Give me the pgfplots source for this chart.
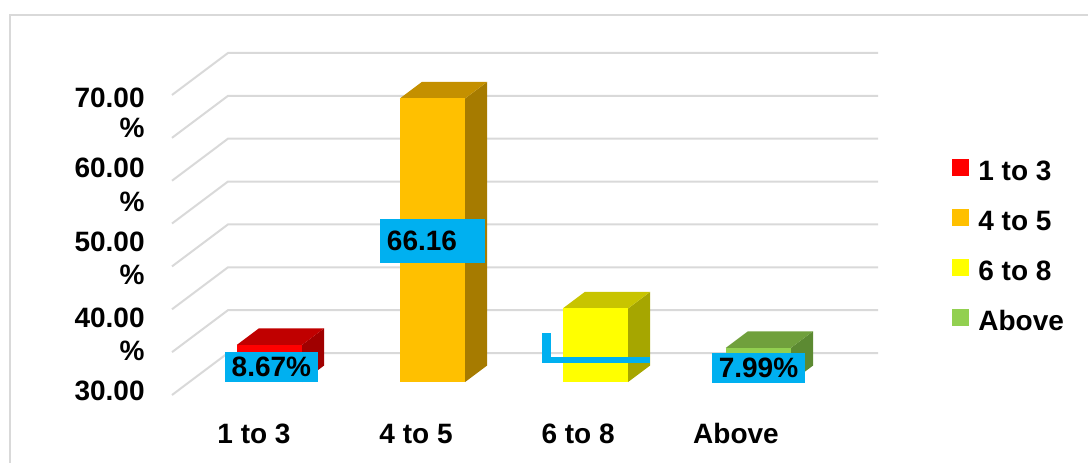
\documentclass[border=0pt]{standalone}
\usepackage{pgfplots}
\pgfplotsset{compat=1.18}
\usepackage{fontspec}
\setmainfont{Liberation Sans}

\definecolor{gridgray}{HTML}{D9D9D9}
\definecolor{lblblue}{HTML}{00B0F0}
\definecolor{redF}{HTML}{FF0000}\definecolor{redT}{HTML}{C00000}\definecolor{redS}{HTML}{A00000}
\definecolor{orgF}{HTML}{FFC000}\definecolor{orgT}{HTML}{C49000}\definecolor{orgS}{HTML}{A67B00}
\definecolor{yelF}{HTML}{FFFF00}\definecolor{yelT}{HTML}{C8C400}\definecolor{yelS}{HTML}{A6A600}
\definecolor{grnF}{HTML}{92D050}\definecolor{grnT}{HTML}{70A03C}\definecolor{grnS}{HTML}{5C8A32}

\newcommand\lblfont{\fontsize{14bp}{16bp}\selectfont\bfseries}

% 3-D bar: #1 = category position, #2 = value, #3/#4/#5 = front/top/side colours
\newcommand\barthreed[5]{%
  \pgfmathsetmacro\xl{#1-0.2}%
  \pgfmathsetmacro\xr{#1+0.2}%
  \pgfmathsetmacro\xlb{#1-0.2+0.135}%
  \pgfmathsetmacro\xrb{#1+0.2+0.135}%
  \pgfmathsetmacro\vb{#2+3.85}%
  \edef\tmp{%
    \noexpand\addplot[fill=#5,draw=none,forget plot] coordinates {(\xr,0) (\xrb,3.85) (\xrb,\vb) (\xr,#2)};
    \noexpand\addplot[fill=#4,draw=none,forget plot] coordinates {(\xl,#2) (\xlb,\vb) (\xrb,\vb) (\xr,#2)};
    \noexpand\addplot[ybar,bar width=0.4,bar shift=0pt,fill=#3,draw=none,forget plot] coordinates {(#1,#2)};
  }\tmp}

\begin{document}
\begin{tikzpicture}
\useasboundingbox (-86bp,-34bp) rectangle (458bp,197.5bp);
\begin{axis}[
  scale only axis,
  width=353bp, height=171bp,
  xmin=-0.598, xmax=3.733,
  ymin=-3.033, ymax=76.76,
  clip=false,
  axis line style={draw=none},
  major tick style={draw=none},
  ytick=\empty,
  xtick={-0.095,0.899,1.893,2.862},
  xticklabels={1 to 3,4 to 5,6 to 8,Above},
  xticklabel style={anchor=base, yshift=-24bp, inner sep=0pt, font=\lblfont},
  legend image code/.code={\fill[#1,draw=none] (0bp,-3bp) rectangle (8.5bp,5.5bp);},
  legend cell align=left,
  legend style={at={(1.1048,0.6906)}, anchor=north west, draw=none, fill=none,
    inner sep=0pt, row sep=14.5bp, column sep=4.5bp,
    nodes={inner sep=0pt, text height=10bp, text depth=0bp}, font=\lblfont},
]
% floor-to-wall gridlines every 10 units
\pgfplotsinvokeforeach{0,10,20,30,40,50,60,70}{
  \draw[gridgray, line width=1bp] (axis cs:-0.598,{#1-3.033}) -- (axis cs:-0.2546,{#1+6.766}) -- (axis cs:3.733,{#1+6.766});
}
\barthreed{0}{8.67}{redF}{redT}{redS}
\barthreed{1}{66.16}{orgF}{orgT}{orgS}
\barthreed{2}{17.18}{yelF}{yelT}{yelS}
\barthreed{3}{7.99}{grnF}{grnT}{grnS}

% value labels
\node[fill=lblblue, inner sep=0pt, minimum width=46.5bp, minimum height=15bp, font=\lblfont] at (axis cs:0.012,3.5) {8.67\%};
\node[fill=lblblue, inner xsep=3.5bp, inner ysep=0pt, text width=45.5bp, align=left, minimum height=22bp, font=\lblfont] at (axis cs:1.0,32.9) {66.16};
\fill[lblblue] (axis cs:1.672,4.43) rectangle (axis cs:1.727,11.43);
\fill[lblblue] (axis cs:1.672,4.43) rectangle (axis cs:2.334,5.83);
\node[fill=lblblue, inner sep=0pt, minimum width=46.5bp, minimum height=15bp, font=\lblfont] at (axis cs:3.0,3.27) {7.99\%};

\addlegendimage{fill=redF}\addlegendentry{1 to 3}
\addlegendimage{fill=orgF}\addlegendentry{4 to 5}
\addlegendimage{fill=yelF}\addlegendentry{6 to 8}
\addlegendimage{fill=grnF}\addlegendentry{Above}
\end{axis}

% value-axis labels
\begin{scope}[every node/.style={anchor=base east, inner sep=0pt, font=\lblfont}]
  \node at (-13.5bp,143.5bp) {70.00};
  \node at (-13.5bp,128.5bp) {\%};
  \node at (-13.5bp,108.5bp) {60.00};
  \node at (-13.5bp,91.5bp) {\%};
  \node at (-13.5bp,71.5bp) {50.00};
  \node at (-13.5bp,55bp) {\%};
  \node at (-13.5bp,34bp) {40.00};
  \node at (-13.5bp,17.5bp) {\%};
  \node at (-13.5bp,-2.5bp) {30.00};
\end{scope}

% chart frame
\draw[gridgray, line width=1bp] (-81bp,-34bp) -- (-81bp,190bp) -- (458bp,190bp);
\end{tikzpicture}
\end{document}
